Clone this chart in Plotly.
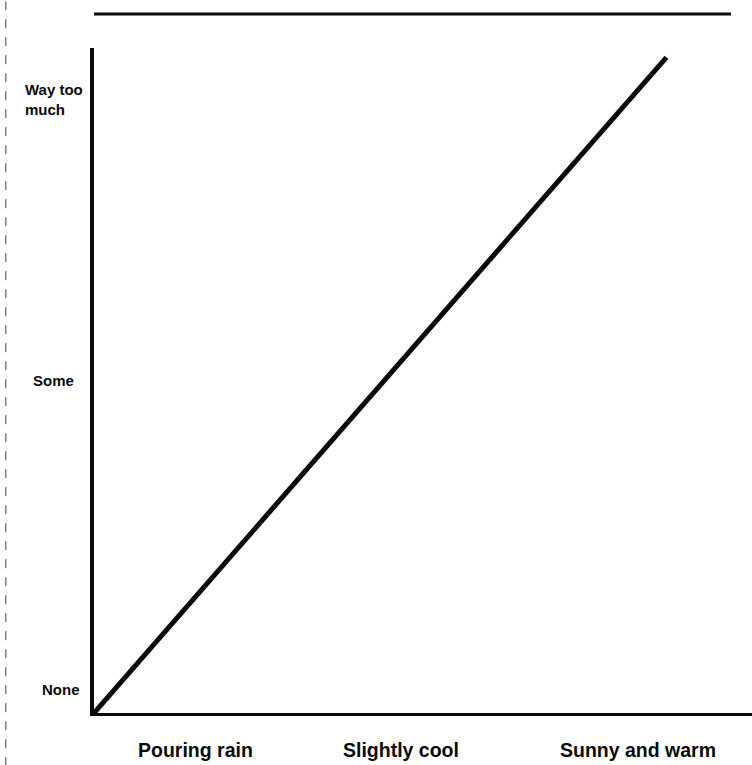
import plotly.graph_objects as go

# Data (axes run 0..1)
line_x = [0.0, 0.87]
line_y = [0.0, 0.986]

x_labels = ["Pouring rain", "Slightly cool", "Sunny and warm"]
x_label_pos = [0.155, 0.467, 0.827]

y_labels = ["None", "Some", "Way too<br>much"]
y_label_pos = [0.035, 0.5, 0.922]

FONT = "Liberation Sans Narrow, Arial Narrow, Liberation Sans, Arial, sans-serif"

fig = go.Figure()
fig.add_trace(go.Scatter(x=line_x, y=line_y, mode="lines",
                         line=dict(color="#0a0a0a", width=5),
                         hoverinfo="skip", showlegend=False))

annotations = []
for lab, xp in zip(x_labels, x_label_pos):
    annotations.append(dict(x=xp, y=-0.056, xref="x", yref="paper", text="<b>%s</b>" % lab,
                            showarrow=False, xanchor="center", yanchor="middle",
                            font=dict(family=FONT, size=19.5, color="#0a0a0a")))
y_x = [-0.018, -0.027, -0.108]
y_anchor = ["right", "right", "left"]
for lab, yp, xx, xa in zip(y_labels, y_label_pos, y_x, y_anchor):
    annotations.append(dict(x=xx, y=yp, xref="paper", yref="y", text="<b>%s</b>" % lab,
                            showarrow=False, xanchor=xa, yanchor="middle", align="left",
                            font=dict(family=FONT, size=15, color="#0a0a0a")))

shapes = [
    dict(type="line", xref="paper", yref="paper", x0=0, x1=0.968, y0=1.051, y1=1.051,
         line=dict(color="#0a0a0a", width=3)),
    dict(type="line", xref="paper", yref="paper", x0=-0.134, x1=-0.134, y0=-0.08, y1=1.07,
         line=dict(color="#444444", width=1, dash="dash")),
]

fig.update_layout(
    width=752, height=765,
    margin=dict(l=94, r=0, t=48, b=52),
    paper_bgcolor="white", plot_bgcolor="white",
    xaxis=dict(range=[0, 1], showgrid=False, zeroline=False, showticklabels=False,
               ticks="", showline=True, linecolor="#0a0a0a", linewidth=3, fixedrange=True),
    yaxis=dict(range=[0, 1], showgrid=False, zeroline=False, showticklabels=False,
               ticks="", showline=True, linecolor="#0a0a0a", linewidth=4, fixedrange=True),
    annotations=annotations,
    shapes=shapes,
    showlegend=False,
)

fig.write_html("out.html", config={"displayModeBar": False},
               post_script="document.body.style.margin='0';")
